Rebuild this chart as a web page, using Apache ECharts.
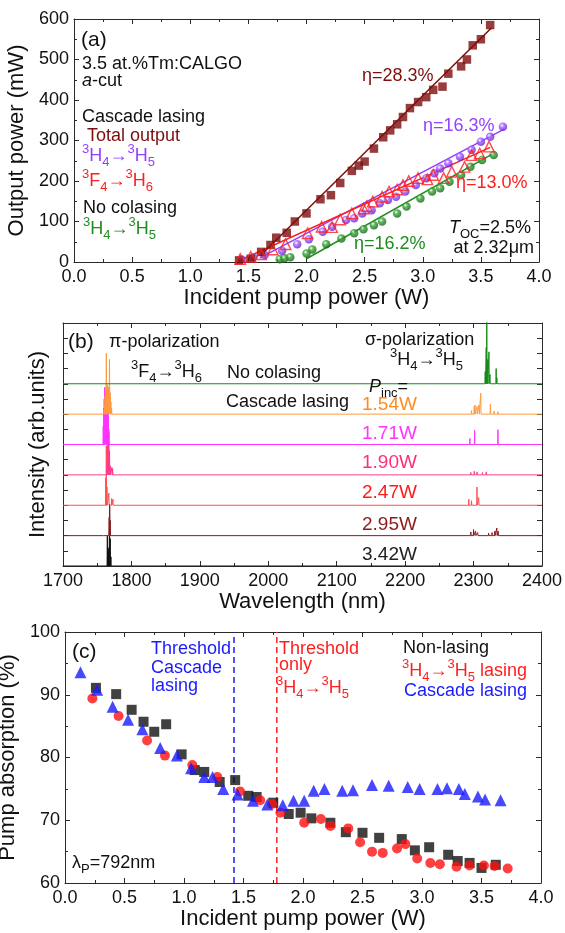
<!DOCTYPE html>
<html><head><meta charset="utf-8">
<script src="https://cdn.jsdelivr.net/npm/echarts@6/dist/echarts.min.js"></script>
<style>html,body{margin:0;padding:0;background:#fff}#c{width:565px;height:933px}</style>
</head><body><div id="c"></div>
<script>
// ---------- Panel (a): output power vs incident pump power ----------
const aTotal = [[1.42,4],[1.52,8],[1.61,25],[1.69,42],[1.74,60],[1.83,72],[1.90,100],[2.00,120],[2.12,155],[2.21,165],[2.29,195],[2.39,225],[2.45,238],[2.50,248],[2.58,280],[2.66,308],[2.72,325],[2.78,340],[2.83,358],[2.89,380],[2.96,395],[3.03,407],[3.09,425],[3.17,433],[3.22,465],[3.33,483],[3.38,500],[3.43,535],[3.50,550],[3.58,585]];
const aCascH45 = [[1.44,7],[1.54,12],[1.64,17],[1.79,28],[1.92,44],[2.02,56],[2.14,75],[2.22,87],[2.34,104],[2.41,108],[2.48,120],[2.56,128],[2.63,145],[2.70,153],[2.77,161],[2.85,174],[2.94,190],[3.03,207],[3.10,219],[3.15,231],[3.22,244],[3.32,260],[3.42,277],[3.50,297],[3.58,309],[3.69,334]];
const aCascF46 = [[1.43,7],[1.52,13],[1.61,19],[1.71,31],[1.82,44],[2.01,71],[2.13,87],[2.22,86],[2.29,105],[2.39,120],[2.49,132],[2.52,138],[2.57,149],[2.65,161],[2.71,174],[2.78,179],[2.83,190],[2.88,200],[2.96,207],[3.04,204],[3.09,215],[3.18,207],[3.25,223],[3.36,235],[3.42,264],[3.49,268],[3.57,285]];
const aNoColH45 = [[1.77,7],[1.81,9],[1.86,12],[2.00,21],[2.05,31],[2.17,44],[2.30,58],[2.41,71],[2.49,81],[2.58,91],[2.65,100],[2.78,120],[2.86,137],[2.98,157],[3.08,174],[3.15,182],[3.23,198],[3.33,215],[3.41,235],[3.51,252],[3.61,264]];
const aFitTotal = [[1.60,15],[3.59,578]];
const aFitCascH45 = [[1.60,10],[3.70,328]];
const aFitCascF46 = [[1.42,3],[3.58,283]];
const aFitNoCol = [[2.00,8],[3.62,270]];
const aSlopes = ['η=28.3%','η=16.3%','η=13.0%','η=16.2%'];

// ---------- Panel (b): spectra, peaks as [wavelength nm, height] ----------
const bLabels = ['3.42W','2.95W','2.47W','1.90W','1.71W','1.54W',''];
const bOffsets = [0,1,2,3,4,5,6];
const bPeaks = [
  // 3.42 W (black)
  [[1764.8,0.98],[1766,0.5],[1767,0.6],[1768,2.03],[1769,0.9],[1770,0.3]],
  // 2.95 W (dark red)
  [[1759.6,0.05],[1767.5,0.6],[1768.2,0.97],[1769,0.5],[2296,0.12],[2300,0.2],[2303,0.15],[2306,0.1],[2322,0.08],[2327,0.1],[2331,0.15],[2334,0.25],[2336,0.15]],
  // 2.47 W (red)
  [[1762.5,0.9],[1763.3,1.96],[1764.2,0.6],[1767,0.4],[1771,0.22],[1773,0.2],[2293,0.2],[2297,0.15],[2305,0.6],[2307.5,0.25],[2335,0.04]],
  // 1.90 W (pink)
  [[1764,0.4],[1765,1.0],[1766,1.9],[1767,1.4],[1768,0.8],[1769,0.3],[1771.5,0.25],[1772.5,0.2],[2296,0.08],[2301,0.12],[2305,0.1],[2313,0.08],[2318.5,0.1],[2320,0.06]],
  // 1.71 W (magenta)
  [[1758.8,0.6],[1759.5,1.2],[1760.2,1.5],[1761,1.88],[1761.8,1.3],[1762.5,1.5],[1763.3,1.1],[1764,0.9],[1765,1.6],[1766,1.85],[1767,0.5],[2294.6,0.2],[2301.5,0.47],[2335.6,0.49]],
  // 1.54 W (orange)
  [[1760,0.15],[1761.5,0.6],[1762.5,0.9],[1763.3,2.0],[1764.2,1.0],[1765,0.95],[1766,0.8],[1767,0.9],[1768,1.8],[1769,0.7],[1770,0.4],[1771,0.2],[2297,0.12],[2301,0.25],[2302,0.3],[2305,0.25],[2308,0.3],[2310.5,0.69],[2324.6,0.33],[2330,0.1],[2335.6,0.08]],
  // no colasing (green)
  [[2317,0.4],[2318.5,1.2],[2319.3,2.2],[2320.5,0.8],[2322.5,1.05],[2324,0.3],[2333,0.5],[2334,0.2]]
];

// ---------- Panel (c): pump absorption ----------
const cNonLasing = [[0.26,91.1],[0.43,90.1],[0.56,87.6],[0.66,85.7],[0.75,84.1],[0.85,85.3],[0.98,80.5],[1.09,78.0],[1.17,77.7],[1.30,76.1],[1.43,76.4],[1.54,73.9],[1.61,73.7],[1.75,72.8],[1.88,71.0],[1.98,71.2],[2.07,70.3],[2.23,69.6],[2.36,68.1],[2.50,68.0],[2.64,67.2],[2.83,67.0],[2.94,65.2],[3.06,65.7],[3.22,64.5],[3.30,63.5],[3.40,63.2],[3.50,62.4],[3.62,62.9]];
const cH45Lasing = [[0.23,89.4],[0.45,86.6],[0.69,82.7],[0.84,80.3],[1.07,78.8],[1.28,76.9],[1.47,74.6],[1.64,73.2],[1.74,72.6],[1.81,71.2],[2.01,69.6],[2.15,70.2],[2.23,69.1],[2.38,68.7],[2.48,66.5],[2.58,65.0],[2.67,64.8],[2.79,65.5],[2.86,66.2],[2.96,63.9],[3.07,63.2],[3.15,63.0],[3.29,62.6],[3.40,62.8],[3.52,62.8],[3.61,62.7],[3.72,62.3]];
const cCascade = [[0.13,93.6],[0.27,90.8],[0.40,88.1],[0.53,86.0],[0.65,84.5],[0.80,81.5],[0.94,80.3],[1.06,78.3],[1.17,76.9],[1.24,76.9],[1.33,75.0],[1.45,74.1],[1.58,73.1],[1.70,72.5],[1.83,72.4],[1.92,73.1],[2.01,73.1],[2.09,74.7],[2.18,75.0],[2.33,74.7],[2.42,74.8],[2.58,75.6],[2.72,75.5],[2.88,75.3],[2.98,75.0],[3.13,75.0],[3.21,75.1],[3.31,75.0],[3.36,74.2],[3.47,73.8],[3.53,73.3],[3.66,73.2]];
const cThresholdCascade = 1.42;
const cThresholdH45 = 1.78;

// ---------- styling ----------
const FONT = '"Liberation Sans", Arial, sans-serif';
const AX = '#2a2a2a';
const C = {
  dred:'#7d0c0c', purple:'#9440ff', red:'#ff1e1e', green:'#1f8c1f',
  bBlack:'#111111', bDred:'#8b1a1a', bRed:'#ff5050', bPink:'#ff3c8c', bMag:'#ff33ff', bOrange:'#ff9a3c', bGreen:'#178a17',
  blue:'#1a1aff'
};
const bColors = [C.bBlack, C.bDred, C.bRed, C.bPink, C.bMag, C.bOrange, C.bGreen];
const bLabelColors = ['#222222','#8b1a1a','#ff1a1a','#ff2d7a','#ff33ff','#ff8c1a'];

const grids = [
  {left:74, top:19, width:465, height:243},
  {left:63, top:323, width:479, height:243},
  {left:65, top:632, width:476, height:251}
];

function xAx(g, min, max, interval, name, fmt, mirror) {
  return {
    gridIndex:g, type:'value', min, max, interval, position: mirror?'top':'bottom',
    axisLine:{show:true, onZero:false, lineStyle:{color:AX, width:1}},
    axisTick:{show:true, inside:true, length:5, lineStyle:{color:AX}},
    minorTick:{show:true, splitNumber:2, length:3, lineStyle:{color:AX}},
    splitLine:{show:false}, minorSplitLine:{show:false},
    axisLabel: mirror ? {show:false} : {show:true, fontSize:18, fontFamily:FONT, color:'#111', margin:6, showMinLabel:true, showMaxLabel:true, formatter:fmt},
    name: mirror ? '' : name, nameLocation:'middle', nameGap:24,
    nameTextStyle:{fontSize:22, fontFamily:FONT, color:'#111'}
  };
}
function yAx(g, min, max, interval, name, gap, showLabels, minor, mirror) {
  return {
    gridIndex:g, type:'value', min, max, interval, position: mirror?'right':'left',
    axisLine:{show:true, onZero:false, lineStyle:{color:AX, width:1}},
    axisTick:{show:true, inside:true, length:5, lineStyle:{color:AX}},
    minorTick:{show:minor, splitNumber:2, length:3, lineStyle:{color:AX}},
    splitLine:{show:false}, minorSplitLine:{show:false},
    axisLabel: (mirror||!showLabels) ? {show:false} : {show:true, fontSize:18, fontFamily:FONT, color:'#111', margin:5, showMinLabel:true, showMaxLabel:true, formatter: v => String(v)},
    name: mirror ? '' : name, nameLocation:'middle', nameGap:gap, nameRotate:90,
    nameTextStyle:{fontSize:22, fontFamily:FONT, color:'#111'}
  };
}
const f1 = v => v.toFixed(1);
const f0 = v => String(Math.round(v));
const xAxis = [
  xAx(0,0,4,0.5,'Incident pump power (W)',f1,false), xAx(0,0,4,0.5,'',f1,true),
  xAx(1,1700,2400,100,'Wavelength (nm)',f0,false), xAx(1,1700,2400,100,'',f0,true),
  xAx(2,0,4,0.5,'Incident pump power (W)',f1,false), xAx(2,0,4,0.5,'',f1,true)
];
const yAxis = [
  yAx(0,0,600,100,'Output power (mW)',39,true,true,false), yAx(0,0,600,100,'',0,true,true,true),
  yAx(1,0,8,0.5,'Intensity (arb.units)',14,false,false,false), yAx(1,0,8,0.5,'',0,false,false,true),
  yAx(2,60,100,10,'Pump absorption (%)',30,true,true,false), yAx(2,60,100,10,'',0,true,true,true)
];

function ball(c1, c2) {
  return {type:'radial', x:0.38, y:0.35, r:0.65, colorStops:[{offset:0,color:'#ffffff'},{offset:0.35,color:c1},{offset:1,color:c2}]};
}
const series = [];
// panel a fits
[[aFitTotal,C.dred],[aFitCascH45,C.purple],[aFitCascF46,C.red],[aFitNoCol,C.green]].forEach(([d,c])=>{
  series.push({type:'line', xAxisIndex:0, yAxisIndex:0, data:d, symbol:'none', lineStyle:{color:c, width:1.5}, z:2, silent:true});
});
series.push({type:'scatter', xAxisIndex:0, yAxisIndex:0, data:aNoColH45, symbol:'circle', symbolSize:8.5, itemStyle:{color:ball('#3aa83a','#146614')}, z:3});
series.push({type:'scatter', xAxisIndex:0, yAxisIndex:0, data:aCascH45, symbol:'circle', symbolSize:8.5, itemStyle:{color:ball('#a866ff','#6a1fd6')}, z:3});
series.push({type:'scatter', xAxisIndex:0, yAxisIndex:0, data:aTotal, symbol:'rect', symbolSize:8.5, itemStyle:{color:C.dred}, z:3});
series.push({type:'scatter', xAxisIndex:0, yAxisIndex:0, data:aCascF46, symbol:'triangle', symbolSize:10.5, itemStyle:{color:'rgba(255,255,255,0)', borderColor:C.red, borderWidth:1.4}, z:4});

// panel b spectra
bPeaks.forEach((peaks, i) => {
  const base = bOffsets[i];
  const pts = [[1700, base]];
  peaks.slice().sort((a,b)=>a[0]-b[0]).forEach(([w,h]) => {
    pts.push([w-0.4, base]); pts.push([w, base+h]); pts.push([w+0.4, base]);
  });
  pts.push([2400, base]);
  series.push({type:'line', xAxisIndex:2, yAxisIndex:2, data:pts, symbol:'none', clip:true, lineStyle:{color:bColors[i], width:1}, z:2+i*0.01, silent:true, animation:false});
});

// panel c
series.push({type:'line', xAxisIndex:4, yAxisIndex:4, data:[[cThresholdCascade,60],[cThresholdCascade,100]], symbol:'none', lineStyle:{color:C.blue, width:1.5, type:[6,4]}, z:1});
series.push({type:'line', xAxisIndex:4, yAxisIndex:4, data:[[cThresholdH45,60],[cThresholdH45,100]], symbol:'none', lineStyle:{color:C.red, width:1.5, type:[6,4]}, z:1});
series.push({type:'scatter', xAxisIndex:4, yAxisIndex:4, data:cNonLasing, symbol:'rect', symbolSize:10, itemStyle:{color:'#111'}, z:3});
series.push({type:'scatter', xAxisIndex:4, yAxisIndex:4, data:cH45Lasing, symbol:'circle', symbolSize:10, itemStyle:{color:'#ff1010'}, z:4});
series.push({type:'scatter', xAxisIndex:4, yAxisIndex:4, data:cCascade, symbol:'triangle', symbolSize:12, itemStyle:{color:C.blue}, z:5});

// ---------- annotations ----------
function T(x, y, text, color, size, align) {
  size = size || 18;
  const sub = {fontSize:Math.round(size*0.7), fontFamily:FONT, fill:color, verticalAlign:'bottom'};
  const sup = {fontSize:Math.round(size*0.7), fontFamily:FONT, fill:color, verticalAlign:'top'};
  return {type:'text', x, y, z:100, silent:true, style:{
    text, fill:color, fontSize:size, fontFamily:FONT, align:align||'left', verticalAlign:'middle', lineHeight:Math.round(size*1.45),
    rich:{sup, sub, i:{fontSize:size, fontFamily:FONT, fill:color, fontStyle:'italic'}, n:{fontSize:size, fontFamily:FONT, fill:color}}
  }};
}
const H45 = '{sup|3}{n|H}{sub|4}{n|→}{sup|3}{n|H}{sub|5}';
const F46 = '{sup|3}{n|F}{sub|4}{n|→}{sup|3}{n|H}{sub|6}';
const graphic = [
  // (a)
  T(81,40,'(a)','#111',21),
  T(82,64,'3.5 at.%Tm:CALGO','#111'),
  T(82,81,'{i|a}{n|-cut}','#111'),
  T(82,117,'Cascade lasing','#111'),
  T(87,136,'Total output',C.dred),
  T(82,156,H45,C.purple),
  T(82,181,F46,C.red),
  T(83,208,'No colasing','#111'),
  T(83,229,H45,C.green),
  T(362,76,aSlopes[0],C.dred),
  T(423,126,aSlopes[1],C.purple),
  T(456,183,aSlopes[2],C.red),
  T(354,244,aSlopes[3],C.green),
  T(531,228,'{i|T}{sub|OC}{n|=2.5%}','#111',18,'right'),
  T(534,248,'at 2.32μm','#111',18,'right'),
  // (b)
  T(68,342,'(b)','#111',21),
  T(109,342,'π-polarization','#111'),
  T(131,372,F46,'#111'),
  T(227,373,'No colasing','#111'),
  T(226,402,'Cascade lasing','#111'),
  T(365,340,'σ-polarization','#111'),
  T(390,360,H45,'#111'),
  T(369,387,'{i|P}{sub|inc}{n|=}','#111'),
  T(362,405,'1.54W',bLabelColors[5],19),
  T(362,434,'1.71W',bLabelColors[4],19),
  T(362,463,'1.90W',bLabelColors[3],19),
  T(362,493,'2.47W',bLabelColors[2],19),
  T(362,525,'2.95W',bLabelColors[1],19),
  T(362,555,'3.42W',bLabelColors[0],19),
  // (c)
  T(72,652,'(c)','#111',21),
  T(151,649,'Threshold',C.blue),
  T(151,668,'Cascade',C.blue),
  T(151,686,'lasing',C.blue),
  T(279,649,'Threshold',C.red),
  T(279,665,'only',C.red),
  T(276,688,H45,C.red),
  T(403,648,'Non-lasing','#111'),
  T(402,671,H45 + '{n| lasing}',C.red),
  T(404,691,'Cascade lasing',C.blue),
  T(72,863,'{n|λ}{sub|P}{n|=792nm}','#111')
];

const chart = echarts.init(document.getElementById('c'), null, {renderer:'canvas'});
chart.setOption({
  animation:false,
  backgroundColor:'#ffffff',
  textStyle:{fontFamily:FONT},
  grid: grids.map(g => Object.assign({show:false, containLabel:false, outerBoundsMode:'none'}, g)),
  xAxis, yAxis, series, graphic
});
</script></body></html>
